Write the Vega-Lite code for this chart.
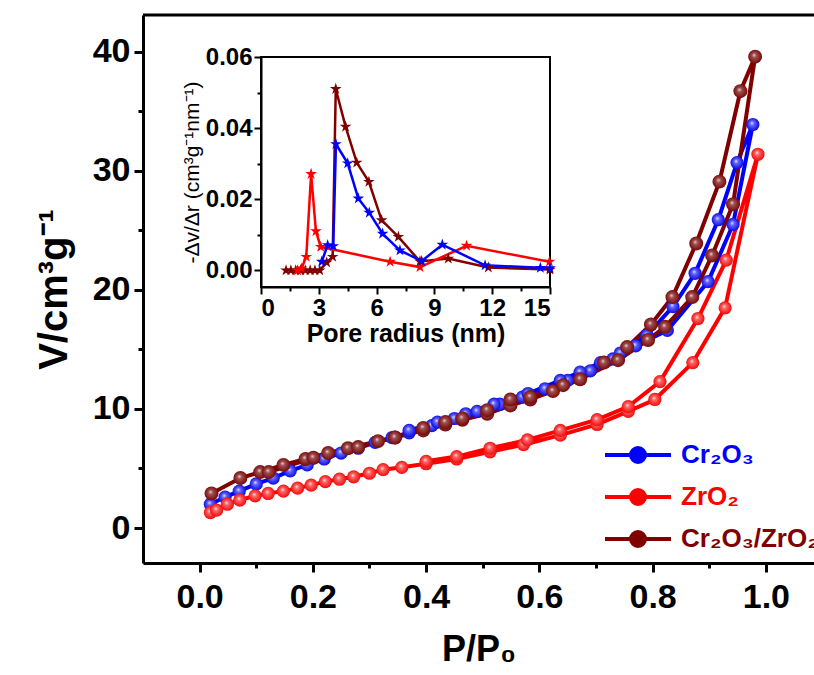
{
  "$schema": "https://vega.github.io/schema/vega-lite/v6.json",
  "width": 671,
  "height": 548,
  "autosize": {"type": "none"},
  "padding": {"left": 143, "top": 15, "right": 0, "bottom": 112},
  "background": "white",
  "config": {"view": {"stroke": null}, "font": "Liberation Sans"},
  "datasets": {
    "iso": [
      {"s":"Cr₂O₃","i":1,"p":0.019,"v":2.0},{"s":"Cr₂O₃","i":2,"p":0.045,"v":2.6},{"s":"Cr₂O₃","i":3,"p":0.07,"v":3.1},{"s":"Cr₂O₃","i":4,"p":0.1,"v":3.7},{"s":"Cr₂O₃","i":5,"p":0.13,"v":4.2},{"s":"Cr₂O₃","i":6,"p":0.16,"v":4.8},{"s":"Cr₂O₃","i":7,"p":0.19,"v":5.3},{"s":"Cr₂O₃","i":8,"p":0.22,"v":5.8},{"s":"Cr₂O₃","i":9,"p":0.25,"v":6.3},{"s":"Cr₂O₃","i":10,"p":0.28,"v":6.7},{"s":"Cr₂O₃","i":11,"p":0.31,"v":7.2},{"s":"Cr₂O₃","i":12,"p":0.34,"v":7.6},{"s":"Cr₂O₃","i":13,"p":0.37,"v":8.0},{"s":"Cr₂O₃","i":14,"p":0.41,"v":8.6},{"s":"Cr₂O₃","i":15,"p":0.45,"v":9.2},{"s":"Cr₂O₃","i":16,"p":0.49,"v":9.8},{"s":"Cr₂O₃","i":17,"p":0.53,"v":10.4},{"s":"Cr₂O₃","i":18,"p":0.57,"v":11.0},{"s":"Cr₂O₃","i":19,"p":0.61,"v":11.7},{"s":"Cr₂O₃","i":20,"p":0.65,"v":12.4},{"s":"Cr₂O₃","i":21,"p":0.69,"v":13.2},{"s":"Cr₂O₃","i":22,"p":0.73,"v":14.2},{"s":"Cr₂O₃","i":23,"p":0.77,"v":15.3},{"s":"Cr₂O₃","i":24,"p":0.826,"v":16.6},{"s":"Cr₂O₃","i":25,"p":0.898,"v":20.7},{"s":"Cr₂O₃","i":26,"p":0.942,"v":25.5},{"s":"Cr₂O₃","i":27,"p":0.977,"v":33.9},
      {"s":"Cr₂O₃","i":28,"p":0.949,"v":30.7},{"s":"Cr₂O₃","i":29,"p":0.916,"v":25.9},{"s":"Cr₂O₃","i":30,"p":0.875,"v":21.4},{"s":"Cr₂O₃","i":31,"p":0.836,"v":18.6},{"s":"Cr₂O₃","i":32,"p":0.79,"v":16.2},{"s":"Cr₂O₃","i":33,"p":0.743,"v":14.7},{"s":"Cr₂O₃","i":34,"p":0.708,"v":13.9},{"s":"Cr₂O₃","i":35,"p":0.672,"v":13.1},{"s":"Cr₂O₃","i":36,"p":0.637,"v":12.4},{"s":"Cr₂O₃","i":37,"p":0.58,"v":11.3},{"s":"Cr₂O₃","i":38,"p":0.52,"v":10.4},{"s":"Cr₂O₃","i":39,"p":0.47,"v":9.6},{"s":"Cr₂O₃","i":40,"p":0.42,"v":8.9},{"s":"Cr₂O₃","i":41,"p":0.37,"v":8.2},
      {"s":"ZrO₂","i":1,"p":0.019,"v":1.3},{"s":"ZrO₂","i":2,"p":0.03,"v":1.5},{"s":"ZrO₂","i":3,"p":0.049,"v":2.0},{"s":"ZrO₂","i":4,"p":0.071,"v":2.35},{"s":"ZrO₂","i":5,"p":0.098,"v":2.7},{"s":"ZrO₂","i":6,"p":0.121,"v":2.9},{"s":"ZrO₂","i":7,"p":0.148,"v":3.1},{"s":"ZrO₂","i":8,"p":0.173,"v":3.35},{"s":"ZrO₂","i":9,"p":0.197,"v":3.6},{"s":"ZrO₂","i":10,"p":0.222,"v":3.9},{"s":"ZrO₂","i":11,"p":0.247,"v":4.1},{"s":"ZrO₂","i":12,"p":0.272,"v":4.3},{"s":"ZrO₂","i":13,"p":0.3,"v":4.6},{"s":"ZrO₂","i":14,"p":0.324,"v":4.9},{"s":"ZrO₂","i":15,"p":0.357,"v":5.1},{"s":"ZrO₂","i":16,"p":0.4,"v":5.4},{"s":"ZrO₂","i":17,"p":0.454,"v":5.8},{"s":"ZrO₂","i":18,"p":0.513,"v":6.4},{"s":"ZrO₂","i":19,"p":0.572,"v":7.0},{"s":"ZrO₂","i":20,"p":0.637,"v":7.8},{"s":"ZrO₂","i":21,"p":0.702,"v":8.7},{"s":"ZrO₂","i":22,"p":0.757,"v":9.8},{"s":"ZrO₂","i":23,"p":0.804,"v":10.8},{"s":"ZrO₂","i":24,"p":0.871,"v":13.9},{"s":"ZrO₂","i":25,"p":0.928,"v":18.5},{"s":"ZrO₂","i":26,"p":0.986,"v":31.4},
      {"s":"ZrO₂","i":27,"p":0.93,"v":22.5},{"s":"ZrO₂","i":28,"p":0.88,"v":17.6},{"s":"ZrO₂","i":29,"p":0.813,"v":12.3},{"s":"ZrO₂","i":30,"p":0.757,"v":10.2},{"s":"ZrO₂","i":31,"p":0.702,"v":9.1},{"s":"ZrO₂","i":32,"p":0.637,"v":8.2},{"s":"ZrO₂","i":33,"p":0.579,"v":7.4},{"s":"ZrO₂","i":34,"p":0.513,"v":6.7},{"s":"ZrO₂","i":35,"p":0.454,"v":6.0},{"s":"ZrO₂","i":36,"p":0.4,"v":5.6},
      {"s":"Cr₂O₃/ZrO₂","i":1,"p":0.021,"v":2.9},{"s":"Cr₂O₃/ZrO₂","i":2,"p":0.072,"v":4.2},{"s":"Cr₂O₃/ZrO₂","i":3,"p":0.107,"v":4.7},{"s":"Cr₂O₃/ZrO₂","i":4,"p":0.148,"v":5.3},{"s":"Cr₂O₃/ZrO₂","i":5,"p":0.187,"v":5.8},{"s":"Cr₂O₃/ZrO₂","i":6,"p":0.227,"v":6.3},{"s":"Cr₂O₃/ZrO₂","i":7,"p":0.262,"v":6.7},{"s":"Cr₂O₃/ZrO₂","i":8,"p":0.315,"v":7.3},{"s":"Cr₂O₃/ZrO₂","i":9,"p":0.345,"v":7.6},{"s":"Cr₂O₃/ZrO₂","i":10,"p":0.395,"v":8.2},{"s":"Cr₂O₃/ZrO₂","i":11,"p":0.434,"v":8.7},{"s":"Cr₂O₃/ZrO₂","i":12,"p":0.464,"v":9.1},{"s":"Cr₂O₃/ZrO₂","i":13,"p":0.508,"v":9.6},{"s":"Cr₂O₃/ZrO₂","i":14,"p":0.549,"v":10.3},{"s":"Cr₂O₃/ZrO₂","i":15,"p":0.584,"v":10.8},{"s":"Cr₂O₃/ZrO₂","i":16,"p":0.624,"v":11.5},{"s":"Cr₂O₃/ZrO₂","i":17,"p":0.672,"v":12.5},{"s":"Cr₂O₃/ZrO₂","i":18,"p":0.739,"v":14.1},{"s":"Cr₂O₃/ZrO₂","i":19,"p":0.792,"v":15.8},{"s":"Cr₂O₃/ZrO₂","i":20,"p":0.822,"v":16.9},{"s":"Cr₂O₃/ZrO₂","i":21,"p":0.87,"v":19.4},{"s":"Cr₂O₃/ZrO₂","i":22,"p":0.905,"v":22.9},{"s":"Cr₂O₃/ZrO₂","i":23,"p":0.942,"v":27.2},{"s":"Cr₂O₃/ZrO₂","i":24,"p":0.981,"v":39.6},
      {"s":"Cr₂O₃/ZrO₂","i":25,"p":0.955,"v":36.7},{"s":"Cr₂O₃/ZrO₂","i":26,"p":0.918,"v":29.1},{"s":"Cr₂O₃/ZrO₂","i":27,"p":0.877,"v":23.9},{"s":"Cr₂O₃/ZrO₂","i":28,"p":0.835,"v":19.4},{"s":"Cr₂O₃/ZrO₂","i":29,"p":0.797,"v":17.1},{"s":"Cr₂O₃/ZrO₂","i":30,"p":0.755,"v":15.2},{"s":"Cr₂O₃/ZrO₂","i":31,"p":0.714,"v":13.9},{"s":"Cr₂O₃/ZrO₂","i":32,"p":0.642,"v":12.0},{"s":"Cr₂O₃/ZrO₂","i":33,"p":0.584,"v":11.0},{"s":"Cr₂O₃/ZrO₂","i":34,"p":0.549,"v":10.8},{"s":"Cr₂O₃/ZrO₂","i":35,"p":0.508,"v":9.9},{"s":"Cr₂O₃/ZrO₂","i":36,"p":0.464,"v":9.2},{"s":"Cr₂O₃/ZrO₂","i":37,"p":0.434,"v":8.9},{"s":"Cr₂O₃/ZrO₂","i":38,"p":0.395,"v":8.4},{"s":"Cr₂O₃/ZrO₂","i":39,"p":0.345,"v":7.6},{"s":"Cr₂O₃/ZrO₂","i":40,"p":0.28,"v":6.8},{"s":"Cr₂O₃/ZrO₂","i":41,"p":0.201,"v":5.9},{"s":"Cr₂O₃/ZrO₂","i":42,"p":0.122,"v":4.7}
    ],
    "psd": [
      {"s":"Cr₂O₃/ZrO₂","r":1.3,"d":0},{"s":"Cr₂O₃/ZrO₂","r":1.55,"d":0},{"s":"Cr₂O₃/ZrO₂","r":1.8,"d":0},{"s":"Cr₂O₃/ZrO₂","r":2.05,"d":0},{"s":"Cr₂O₃/ZrO₂","r":2.3,"d":0},{"s":"Cr₂O₃/ZrO₂","r":2.55,"d":0},{"s":"Cr₂O₃/ZrO₂","r":2.8,"d":0},{"s":"Cr₂O₃/ZrO₂","r":3.05,"d":0},{"s":"Cr₂O₃/ZrO₂","r":3.41,"d":0.0022},{"s":"Cr₂O₃/ZrO₂","r":3.72,"d":0.0038},{"s":"Cr₂O₃/ZrO₂","r":3.88,"d":0.051},{"s":"Cr₂O₃/ZrO₂","r":4.39,"d":0.0404},{"s":"Cr₂O₃/ZrO₂","r":4.97,"d":0.0303},{"s":"Cr₂O₃/ZrO₂","r":5.6,"d":0.0249},{"s":"Cr₂O₃/ZrO₂","r":6.26,"d":0.0141},{"s":"Cr₂O₃/ZrO₂","r":7.13,"d":0.0094},{"s":"Cr₂O₃/ZrO₂","r":8.25,"d":0.0025},{"s":"Cr₂O₃/ZrO₂","r":9.72,"d":0.0033},{"s":"Cr₂O₃/ZrO₂","r":11.8,"d":0.0008},{"s":"Cr₂O₃/ZrO₂","r":15.0,"d":0.0002},
      {"s":"ZrO₂","r":1.9,"d":0},{"s":"ZrO₂","r":2.1,"d":0.0005},{"s":"ZrO₂","r":2.35,"d":0.0038},{"s":"ZrO₂","r":2.6,"d":0.0271},{"s":"ZrO₂","r":2.85,"d":0.011},{"s":"ZrO₂","r":3.1,"d":0.0066},{"s":"ZrO₂","r":6.7,"d":0.0024},{"s":"ZrO₂","r":8.25,"d":0.0009},{"s":"ZrO₂","r":10.67,"d":0.0069},{"s":"ZrO₂","r":14.97,"d":0.0024},
      {"s":"Cr₂O₃","r":3.15,"d":0.0024},{"s":"Cr₂O₃","r":3.46,"d":0.0071},{"s":"Cr₂O₃","r":3.75,"d":0.0068},{"s":"Cr₂O₃","r":3.89,"d":0.0355},{"s":"Cr₂O₃","r":4.5,"d":0.0301},{"s":"Cr₂O₃","r":5.05,"d":0.0202},{"s":"Cr₂O₃","r":5.62,"d":0.0162},{"s":"Cr₂O₃","r":6.31,"d":0.0103},{"s":"Cr₂O₃","r":7.21,"d":0.0056},{"s":"Cr₂O₃","r":8.34,"d":0.0026},{"s":"Cr₂O₃","r":9.41,"d":0.0072},{"s":"Cr₂O₃","r":11.63,"d":0.0014},{"s":"Cr₂O₃","r":14.5,"d":0.0007},{"s":"Cr₂O₃","r":15.0,"d":0.0006}
    ]
  },
  "layer": [
    {
      "data": {"name": "iso"},
      "mark": {"type": "line", "strokeWidth": 4},
      "encoding": {
        "x": {"field": "p", "type": "quantitative", "title": "P/P₀",
          "scale": {"domain": [-0.1, 1.085], "nice": false, "zero": false},
          "axis": {"orient": "bottom", "values": [0,0.2,0.4,0.6,0.8,1.0], "format": ".1f",
            "tickSize": 9, "grid": false, "domainColor": "black", "domainWidth": 3, "tickColor": "black", "tickWidth": 3,
            "labelFont": "Liberation Sans", "labelFontSize": 34, "labelFontWeight": "bold", "labelColor": "black", "labelPadding": 8,
            "titleFont": "Liberation Sans", "titleFontSize": 36, "titleFontWeight": "bold", "titleColor": "black", "titlePadding": 18}},
        "y": {"field": "v", "type": "quantitative", "title": "V/cm³g⁻¹",
          "scale": {"domain": [-2.94, 43.1], "nice": false, "zero": false},
          "axis": {"orient": "left", "values": [0,10,20,30,40],
            "tickSize": 9, "grid": false, "domainColor": "black", "domainWidth": 3, "tickColor": "black", "tickWidth": 3,
            "labelFont": "Liberation Sans", "labelFontSize": 34, "labelFontWeight": "bold", "labelColor": "black", "labelPadding": 4,
            "titleFont": "Liberation Sans", "titleFontSize": 40, "titleFontWeight": "bold", "titleColor": "black", "titlePadding": 18}},
        "order": {"field": "i", "type": "quantitative"},
        "color": {"field": "s", "type": "nominal",
          "scale": {"domain": ["Cr₂O₃", "ZrO₂", "Cr₂O₃/ZrO₂"], "range": ["#0000FF", "#FF0000", "#800000"]},
          "legend": {"title": null, "orient": "none", "legendX": 482, "legendY": 427,
            "symbolType": "M-3.3,0L-0.7,0M0.7,0L3.3,0M0.7,0A0.7,0.7,0,1,1,-0.7,0A0.7,0.7,0,1,1,0.7,0Z",
            "symbolSize": 400, "symbolStrokeWidth": 4, "labelFont": "Liberation Sans", "labelFontSize": 26, "labelFontWeight": "bold",
            "labelOffset": 30, "rowPadding": 12, "padding": 0, "symbolOffset": 0, "labelLimit": 500,
            "encode": {"labels": {"update": {"fill": {"scale": "color", "field": "value"}}},
              "symbols": {"update": {"fill": {"scale": "color", "field": "value"}, "stroke": {"scale": "color", "field": "value"}}}}}}
      }
    },
    {
      "data": {"name": "iso"},
      "transform": [{"filter": "datum.s == 'Cr₂O₃'"}],
      "mark": {"type": "point", "shape": "circle", "filled": true, "size": 175, "strokeWidth": 0, "opacity": 1,
        "fill": {"gradient": "radial", "x1": 0.42, "y1": 0.38, "r1": 0, "x2": 0.5, "y2": 0.5, "r2": 0.55,
          "stops": [{"offset": 0, "color": "#eeeeff"}, {"offset": 0.28, "color": "#6666ff"}, {"offset": 1, "color": "#0000dd"}]}},
      "encoding": {
        "x": {"field": "p", "type": "quantitative", "scale": {"domain": [-0.1, 1.085], "nice": false, "zero": false},
          "axis": {"orient": "bottom", "values": [0.1,0.3,0.5,0.7,0.9], "labels": false, "domain": false, "grid": false, "title": null,
            "tickSize": 5, "tickColor": "black", "tickWidth": 3}},
        "y": {"field": "v", "type": "quantitative", "scale": {"domain": [-2.94, 43.1], "nice": false, "zero": false},
          "axis": {"orient": "left", "values": [5,15,25,35], "labels": false, "domain": false, "grid": false, "title": null,
            "tickSize": 5, "tickColor": "black", "tickWidth": 3}}
      }
    },
    {
      "data": {"name": "iso"},
      "transform": [{"filter": "datum.s == 'ZrO₂'"}],
      "mark": {"type": "point", "shape": "circle", "filled": true, "size": 175, "strokeWidth": 0, "opacity": 1,
        "fill": {"gradient": "radial", "x1": 0.42, "y1": 0.38, "r1": 0, "x2": 0.5, "y2": 0.5, "r2": 0.55,
          "stops": [{"offset": 0, "color": "#ffeeee"}, {"offset": 0.28, "color": "#ff6666"}, {"offset": 1, "color": "#ee0000"}]}},
      "encoding": {
        "x": {"field": "p", "type": "quantitative", "scale": {"domain": [-0.1, 1.085], "nice": false, "zero": false}, "axis": null},
        "y": {"field": "v", "type": "quantitative", "scale": {"domain": [-2.94, 43.1], "nice": false, "zero": false}, "axis": null}
      }
    },
    {
      "data": {"name": "iso"},
      "transform": [{"filter": "datum.s == 'Cr₂O₃/ZrO₂'"}],
      "mark": {"type": "point", "shape": "circle", "filled": true, "size": 195, "strokeWidth": 0, "opacity": 1,
        "fill": {"gradient": "radial", "x1": 0.42, "y1": 0.38, "r1": 0, "x2": 0.5, "y2": 0.5, "r2": 0.55,
          "stops": [{"offset": 0, "color": "#f2dcdc"}, {"offset": 0.28, "color": "#a05050"}, {"offset": 1, "color": "#700000"}]}},
      "encoding": {
        "x": {"field": "p", "type": "quantitative", "scale": {"domain": [-0.1, 1.085], "nice": false, "zero": false}, "axis": null},
        "y": {"field": "v", "type": "quantitative", "scale": {"domain": [-2.94, 43.1], "nice": false, "zero": false}, "axis": null}
      }
    },
    {
      "data": {"values": [{}]},
      "mark": {"type": "rule", "strokeWidth": 3, "color": "black"},
      "encoding": {"y": {"datum": 43.1, "type": "quantitative", "scale": {"domain": [-2.94, 43.1], "nice": false, "zero": false}, "axis": null}}
    },
    {
      "data": {"values": [{}]},
      "mark": {"type": "rect", "fill": "white", "fillOpacity": 0, "stroke": "black", "strokeWidth": 2},
      "encoding": {
        "x": {"datum": 0, "type": "quantitative", "scale": {"domain": [0, 15], "range": [118, 407], "nice": false, "zero": false}, "axis": null},
        "x2": {"datum": 15},
        "y": {"datum": -0.0047, "type": "quantitative", "scale": {"domain": [-0.0047, 0.06], "range": [272, 42], "nice": false, "zero": false}, "axis": null},
        "y2": {"datum": 0.06}
      }
    },
    {
      "data": {"name": "psd"},
      "mark": {"type": "line", "strokeWidth": 2.5},
      "encoding": {
        "x": {"field": "r", "type": "quantitative", "title": "Pore radius (nm)",
          "scale": {"domain": [0, 15], "range": [118, 407], "nice": false, "zero": false},
          "axis": {"orient": "bottom", "offset": -276, "values": [0,3,6,9,12,15],
            "tickSize": 7, "grid": false, "domainColor": "black", "domainWidth": 2, "tickColor": "black", "tickWidth": 2,
            "labelFont": "Liberation Sans", "labelFontSize": 24, "labelFontWeight": "bold", "labelColor": "black", "labelPadding": 2,
            "titleFont": "Liberation Sans", "titleFontSize": 25, "titleFontWeight": "bold", "titleColor": "black", "titlePadding": 1}},
        "y": {"field": "d", "type": "quantitative", "title": "-Δv/Δr (cm³g⁻¹nm⁻¹)",
          "scale": {"domain": [-0.0047, 0.06], "range": [272, 42], "nice": false, "zero": false},
          "axis": {"orient": "left", "offset": -118, "values": [0,0.02,0.04,0.06], "format": ".2f",
            "tickSize": 7, "grid": false, "domainColor": "black", "domainWidth": 2, "tickColor": "black", "tickWidth": 2,
            "labelFont": "Liberation Sans", "labelFontSize": 24, "labelFontWeight": "bold", "labelColor": "black", "labelPadding": 2,
            "titleFont": "Liberation Sans", "titleFontSize": 21, "titleFontWeight": "normal", "titleColor": "black", "titlePadding": 3}},
        "color": {"field": "s", "type": "nominal", "legend": null}
      }
    },
    {
      "data": {"name": "psd"},
      "mark": {"type": "point", "filled": true, "size": 150, "opacity": 1,
        "shape": "M0,-1L0.2245,-0.309L0.951,-0.309L0.363,0.118L0.588,0.809L0,0.382L-0.588,0.809L-0.363,0.118L-0.951,-0.309L-0.2245,-0.309Z"},
      "encoding": {
        "x": {"field": "r", "type": "quantitative",
          "scale": {"domain": [0, 15], "range": [118, 407], "nice": false, "zero": false},
          "axis": {"orient": "bottom", "offset": -276, "values": [1.5,4.5,7.5,10.5,13.5], "labels": false, "domain": false, "grid": false, "title": null,
            "tickSize": 4, "tickColor": "black", "tickWidth": 2}},
        "y": {"field": "d", "type": "quantitative",
          "scale": {"domain": [-0.0047, 0.06], "range": [272, 42], "nice": false, "zero": false},
          "axis": {"orient": "left", "offset": -118, "values": [0.01,0.03,0.05], "labels": false, "domain": false, "grid": false, "title": null,
            "tickSize": 4, "tickColor": "black", "tickWidth": 2}},
        "color": {"field": "s", "type": "nominal", "legend": null}
      }
    }
  ],
  "resolve": {"scale": {"x": "independent", "y": "independent"}, "axis": {"x": "independent", "y": "independent"}}
}
